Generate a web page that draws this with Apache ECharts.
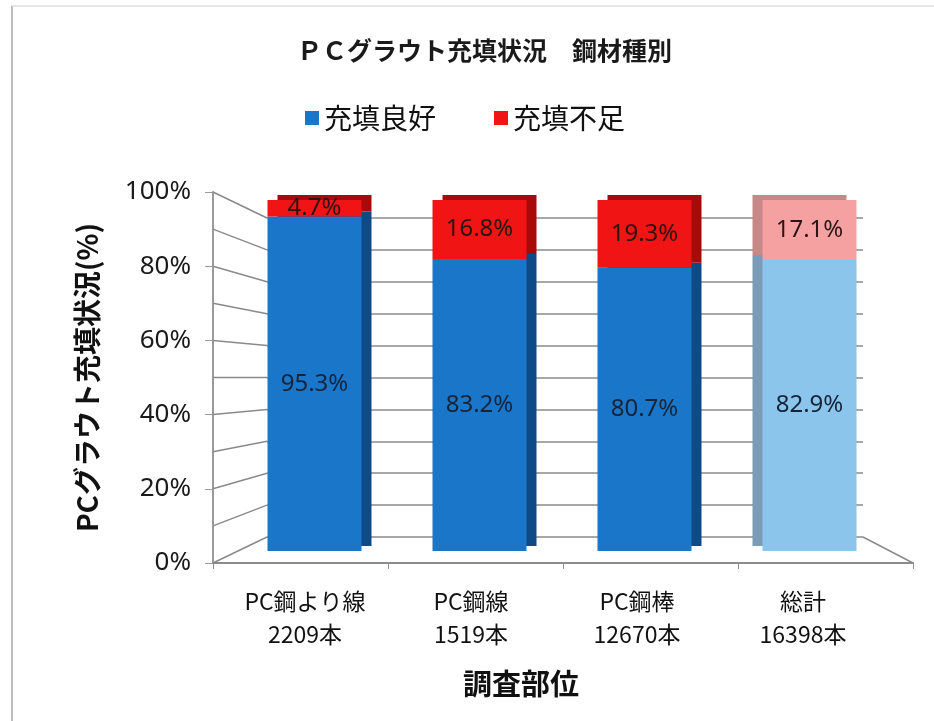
<!DOCTYPE html>
<html>
<head>
<meta charset="utf-8">
<script src="https://cdn.jsdelivr.net/npm/echarts@6/dist/echarts.min.js"></script>
<style>
  html, body { margin: 0; padding: 0; background: #fff; }
  #frame { position: absolute; left: 11px; top: 5px; width: 930px; height: 720px;
           border-left: 2px solid #bdbdbd; border-top: 2px solid #e6e6e6; }
  #myChart { position: absolute; left: 0; top: 0; width: 934px; height: 721px; }
</style>
</head>
<body>
<div id="frame"></div>
<div id="myChart"></div>
<script>
// categories (steel type + count)
const categories = ['PC鋼より線\n2209本', 'PC鋼線\n1519本', 'PC鋼棒\n12670本', '総計\n16398本']
// share of well-filled / insufficiently filled (%)
const goodData = [95.3, 83.2, 80.7, 82.9]
const poorData = [4.7, 16.8, 19.3, 17.1]
// wall gridline levels (%)
const wallLevels = [0, 10, 20, 30, 40, 50, 60, 70, 80, 90, 100]

const JP = '"Noto Sans CJK JP", "Noto Sans", sans-serif'
const NUM = '"Noto Sans", "Liberation Sans", sans-serif'

const goodColor = '#1a76c9'
const goodSide = '#0e4a86'
const poorColor = '#f01414'
const poorSide = '#a80a0a'
// the "total" bar is drawn in paler colours
const totalGood = '#8cc5ec'
const totalGoodSide = '#7b9cb6'
const totalPoor = '#f6a1a1'
const totalPoorSide = '#c98888'

const frontGrid = { left: 213, right: 21, top: 192, bottom: 158 }
const wallGrid = { left: 267, right: 71, top: 218, bottom: 184 }

function itemsOf (values, color, side, lastColor, lastSide) {
  return values.map((v, i) => {
    const last = i === values.length - 1
    return {
      value: v,
      itemStyle: {
        color: last ? lastColor : color,
        shadowColor: last ? lastSide : side,
        shadowBlur: 0,
        shadowOffsetX: last ? -10 : 10,
        shadowOffsetY: -5
      }
    }
  })
}

let myChart = echarts.init(document.getElementById('myChart'))
myChart.setOption({
  animation: false,
  title: [
    {
      text: 'ＰＣグラウト充填状況　鋼材種別',
      left: 292,
      top: 33,
      textStyle: { fontFamily: JP, fontSize: 25, fontWeight: 'bold', color: '#1a1a1a' }
    },
    {
      text: '調査部位',
      left: 458,
      top: 664,
      textStyle: { fontFamily: JP, fontSize: 29, fontWeight: 'bold', color: '#111' }
    }
  ],
  legend: {
    left: 300,
    top: 99,
    itemWidth: 14,
    itemHeight: 14,
    itemGap: 58,
    icon: 'rect',
    textStyle: { fontFamily: JP, fontSize: 28, color: '#111' },
    data: [
      { name: '充填良好', itemStyle: { color: goodColor } },
      { name: '充填不足', itemStyle: { color: poorColor } }
    ]
  },
  grid: [
    // front axes (y labels and baseline)
    frontGrid,
    // category labels
    { left: 222, right: 48, top: 192, bottom: 158 },
    // back wall gridlines
    wallGrid,
    // bars
    { left: 232, right: 42, top: 200, bottom: 170 }
  ],
  xAxis: [
    {
      gridIndex: 0,
      type: 'category',
      data: categories,
      axisLine: { lineStyle: { color: '#8c8c8c', width: 2 } },
      axisTick: { show: true, length: 6, lineStyle: { color: '#8c8c8c' } },
      axisLabel: { show: false }
    },
    {
      gridIndex: 1,
      type: 'category',
      data: categories,
      axisLine: { show: false },
      axisTick: { show: false },
      axisLabel: {
        margin: 22,
        fontFamily: JP,
        fontSize: 23,
        lineHeight: 33,
        color: '#111'
      }
    },
    { gridIndex: 2, type: 'category', data: categories, show: false },
    { gridIndex: 3, type: 'category', data: categories, show: false }
  ],
  yAxis: [
    {
      gridIndex: 0,
      type: 'value',
      min: 0,
      max: 100,
      interval: 20,
      name: 'PCグラウト充填状況(%)',
      nameLocation: 'middle',
      nameGap: 112,
      nameTextStyle: { fontFamily: JP, fontSize: 28, fontWeight: 'bold', color: '#111' },
      axisLine: { show: true, lineStyle: { color: '#9a9a9a', width: 2 } },
      axisTick: { show: true, length: 8, lineStyle: { color: '#9a9a9a' } },
      axisLabel: {
        margin: 22,
        fontFamily: NUM,
        fontSize: 26,
        color: '#1a1a1a',
        formatter: '{value}%'
      },
      splitLine: { show: false }
    },
    { gridIndex: 1, type: 'value', min: 0, max: 100, show: false },
    {
      gridIndex: 2,
      type: 'value',
      min: 0,
      max: 100,
      interval: 10,
      axisLine: { show: false },
      axisTick: { show: false },
      axisLabel: { show: false },
      splitLine: { show: true, lineStyle: { color: '#8a8a8a', width: 1.5 } }
    },
    { gridIndex: 3, type: 'value', min: 0, max: 100, show: false }
  ],
  series: [
    {
      name: '充填良好',
      type: 'bar',
      stack: 'total',
      xAxisIndex: 3,
      yAxisIndex: 3,
      barWidth: 94,
      color: goodColor,
      z: 5,
      data: itemsOf(goodData, goodColor, goodSide, totalGood, totalGoodSide),
      label: {
        show: true,
        position: 'inside',
        fontFamily: NUM,
        fontSize: 24,
        color: '#16243a',
        formatter: p => p.value.toFixed(1) + '%'
      }
    },
    {
      name: '充填不足',
      type: 'bar',
      stack: 'total',
      xAxisIndex: 3,
      yAxisIndex: 3,
      barWidth: 94,
      color: poorColor,
      z: 5,
      data: itemsOf(poorData, poorColor, poorSide, totalPoor, totalPoorSide),
      label: {
        show: true,
        position: 'inside',
        fontFamily: NUM,
        fontSize: 24,
        color: '#2a1414',
        formatter: p => p.value.toFixed(1) + '%'
      }
    }
  ]
})

// left wall and floor edge of the 3D frame: link front axis levels to back wall levels
const W = 934
const wallLines = wallLevels.map(v => ({
  type: 'line',
  silent: true,
  z: 1,
  shape: {
    x1: frontGrid.left,
    y1: myChart.convertToPixel({ yAxisIndex: 0 }, v),
    x2: wallGrid.left,
    y2: myChart.convertToPixel({ yAxisIndex: 2 }, v)
  },
  style: { stroke: '#8a8a8a', lineWidth: 1.5 }
}))
wallLines.push({
  type: 'line',
  silent: true,
  z: 1,
  shape: {
    x1: W - wallGrid.right,
    y1: myChart.convertToPixel({ yAxisIndex: 2 }, 0),
    x2: W - frontGrid.right,
    y2: myChart.convertToPixel({ yAxisIndex: 0 }, 0)
  },
  style: { stroke: '#8a8a8a', lineWidth: 1.5 }
})
myChart.setOption({ graphic: wallLines })
</script>
</body>
</html>
